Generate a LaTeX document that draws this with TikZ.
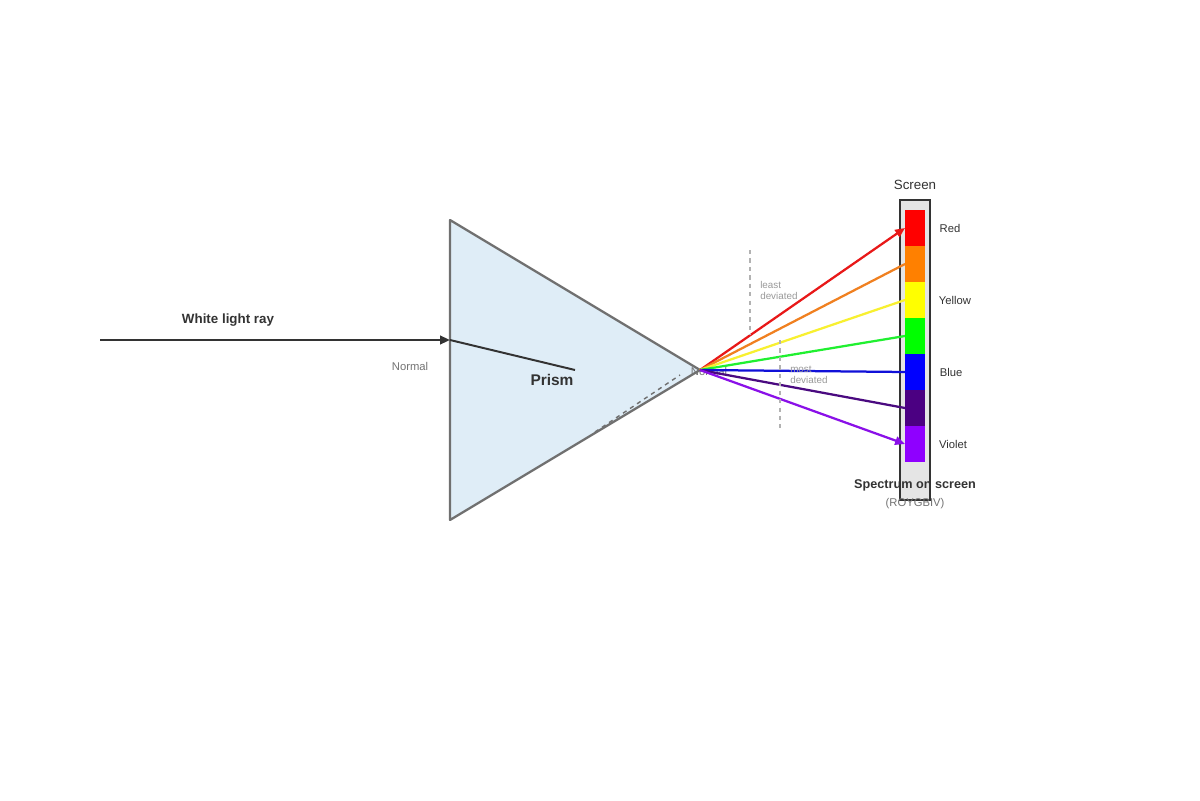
\documentclass[tikz,border=0pt]{standalone}
\usepackage{fontspec}
\setmainfont{Liberation Sans}
\usetikzlibrary{arrows.meta,positioning}
\definecolor{prismfill}{HTML}{DFEDF7}
\definecolor{prismline}{HTML}{707070}
\definecolor{cR}{HTML}{FF0000}
\definecolor{cO}{HTML}{FF8000}
\definecolor{cY}{HTML}{FFFF00}
\definecolor{cG}{HTML}{00FF00}
\definecolor{cB}{HTML}{0000FF}
\definecolor{cI}{HTML}{4B0082}
\definecolor{cV}{HTML}{8F00FF}
\definecolor{rR}{HTML}{E81818}
\definecolor{rO}{HTML}{F08020}
\definecolor{rY}{HTML}{F8F030}
\definecolor{rG}{HTML}{20F030}
\definecolor{rB}{HTML}{1010D8}
\definecolor{rI}{HTML}{4A0A80}
\definecolor{rV}{HTML}{8A10E8}
\tikzset{>={Triangle[length=7pt,width=6pt]}}
\tikzset{ray/.style={line width=1.6pt},
         lbl/.style={font=\fontsize{8}{9}\selectfont,text=black!80},
         hint/.style={font=\fontsize{7}{8}\selectfont,text=black!40,align=left},
         guide/.style={black!30,dashed,line width=0.8pt}}
\begin{document}
\begin{tikzpicture}[x=0.025cm,y=-0.025cm]
                \useasboundingbox (0,0) rectangle (1200,800);
                \fill[white] (0,0) rectangle (1200,800);
                % prism
                \draw[prismline,fill=prismfill,line width=1.6pt,line join=round]
                    (450,220) coordinate (pa) -- (450,520) coordinate (pb) -- (700,370) coordinate (exit) -- cycle;
                \node[font=\bfseries\fontsize{11}{12}\selectfont,text=black!80] (prism) at (552,380) {Prism};
                \node[lbl,text=black!55] (normal) at (410,366) {Normal};
                \node[lbl,text=black!55] (normal2) at (709,371) {Normal};
                % incoming ray
                \coordinate (src) at (100,340);
                \coordinate (entry) at (450,340);
                \coordinate (inside) at (575,370);
                \draw[black!80,line width=1.6pt,->] (src) -- (entry);
                \draw[black!80,line width=1.4pt] (entry) -- (inside);
                \node[font=\bfseries\fontsize{9.5}{11}\selectfont,text=black!80] (white) at (228,320) {White light ray};
                \coordinate (d1) at (595,432);
                \coordinate (d2) at (680,375);
                \draw[prismline,dashed,line width=1pt] (d1) -- (d2);
                % screen
                \draw[black!80,fill=black!10,line width=1.2pt] (900,200) rectangle (930,500);
                \node[font=\fontsize{9.5}{11}\selectfont,text=black!80] (screen) at (915,185) {Screen};
                \foreach \c [count=\i from 0] in {cR,cO,cY,cG,cB,cI,cV}
                    \fill[\c] (905,210+36*\i) rectangle (925,246+36*\i);
                \foreach \i in {0,...,6}
                    \coordinate (s\i) at (905,228+36*\i);
                \node[lbl] (red) at (950,228) {Red};
                \node[lbl] (yellow) at (955,300) {Yellow};
                \node[lbl] (blue) at (951,372) {Blue};
                \node[lbl] (violet) at (953,444) {Violet};
                \node[font=\bfseries\fontsize{9}{10}\selectfont,text=black!80] (spec) at (915,485) {Spectrum on screen};
                \node[lbl,text=black!55] (roy) at (915,504) {(ROYGBIV)};
                % dispersed rays
                \draw[ray,rR,->] (exit) -- (s0);
                \draw[ray,rO] (exit) -- (s1);
                \draw[ray,rY] (exit) -- (s2);
                \draw[ray,rG] (exit) -- (s3);
                \draw[ray,rB] (exit) -- (s4);
                \draw[ray,rI] (exit) -- (s5);
                \draw[ray,rV,->] (exit) -- (s6);
                % deviation hints
                \coordinate (g1) at (750,250);
                \coordinate (g2) at (750,335);
                \coordinate (g3) at (780,340);
                \coordinate (g4) at (780,428);
                \draw[guide] (g1) -- (g2);
                \draw[guide] (g3) -- (g4);
                \node[hint,anchor=north west,inner sep=0pt] (least) at (760,281) {least\\deviated};
                \node[hint,anchor=north west,inner sep=0pt] (most) at (790,366) {most\\deviated};
            \end{tikzpicture}
\end{document}
